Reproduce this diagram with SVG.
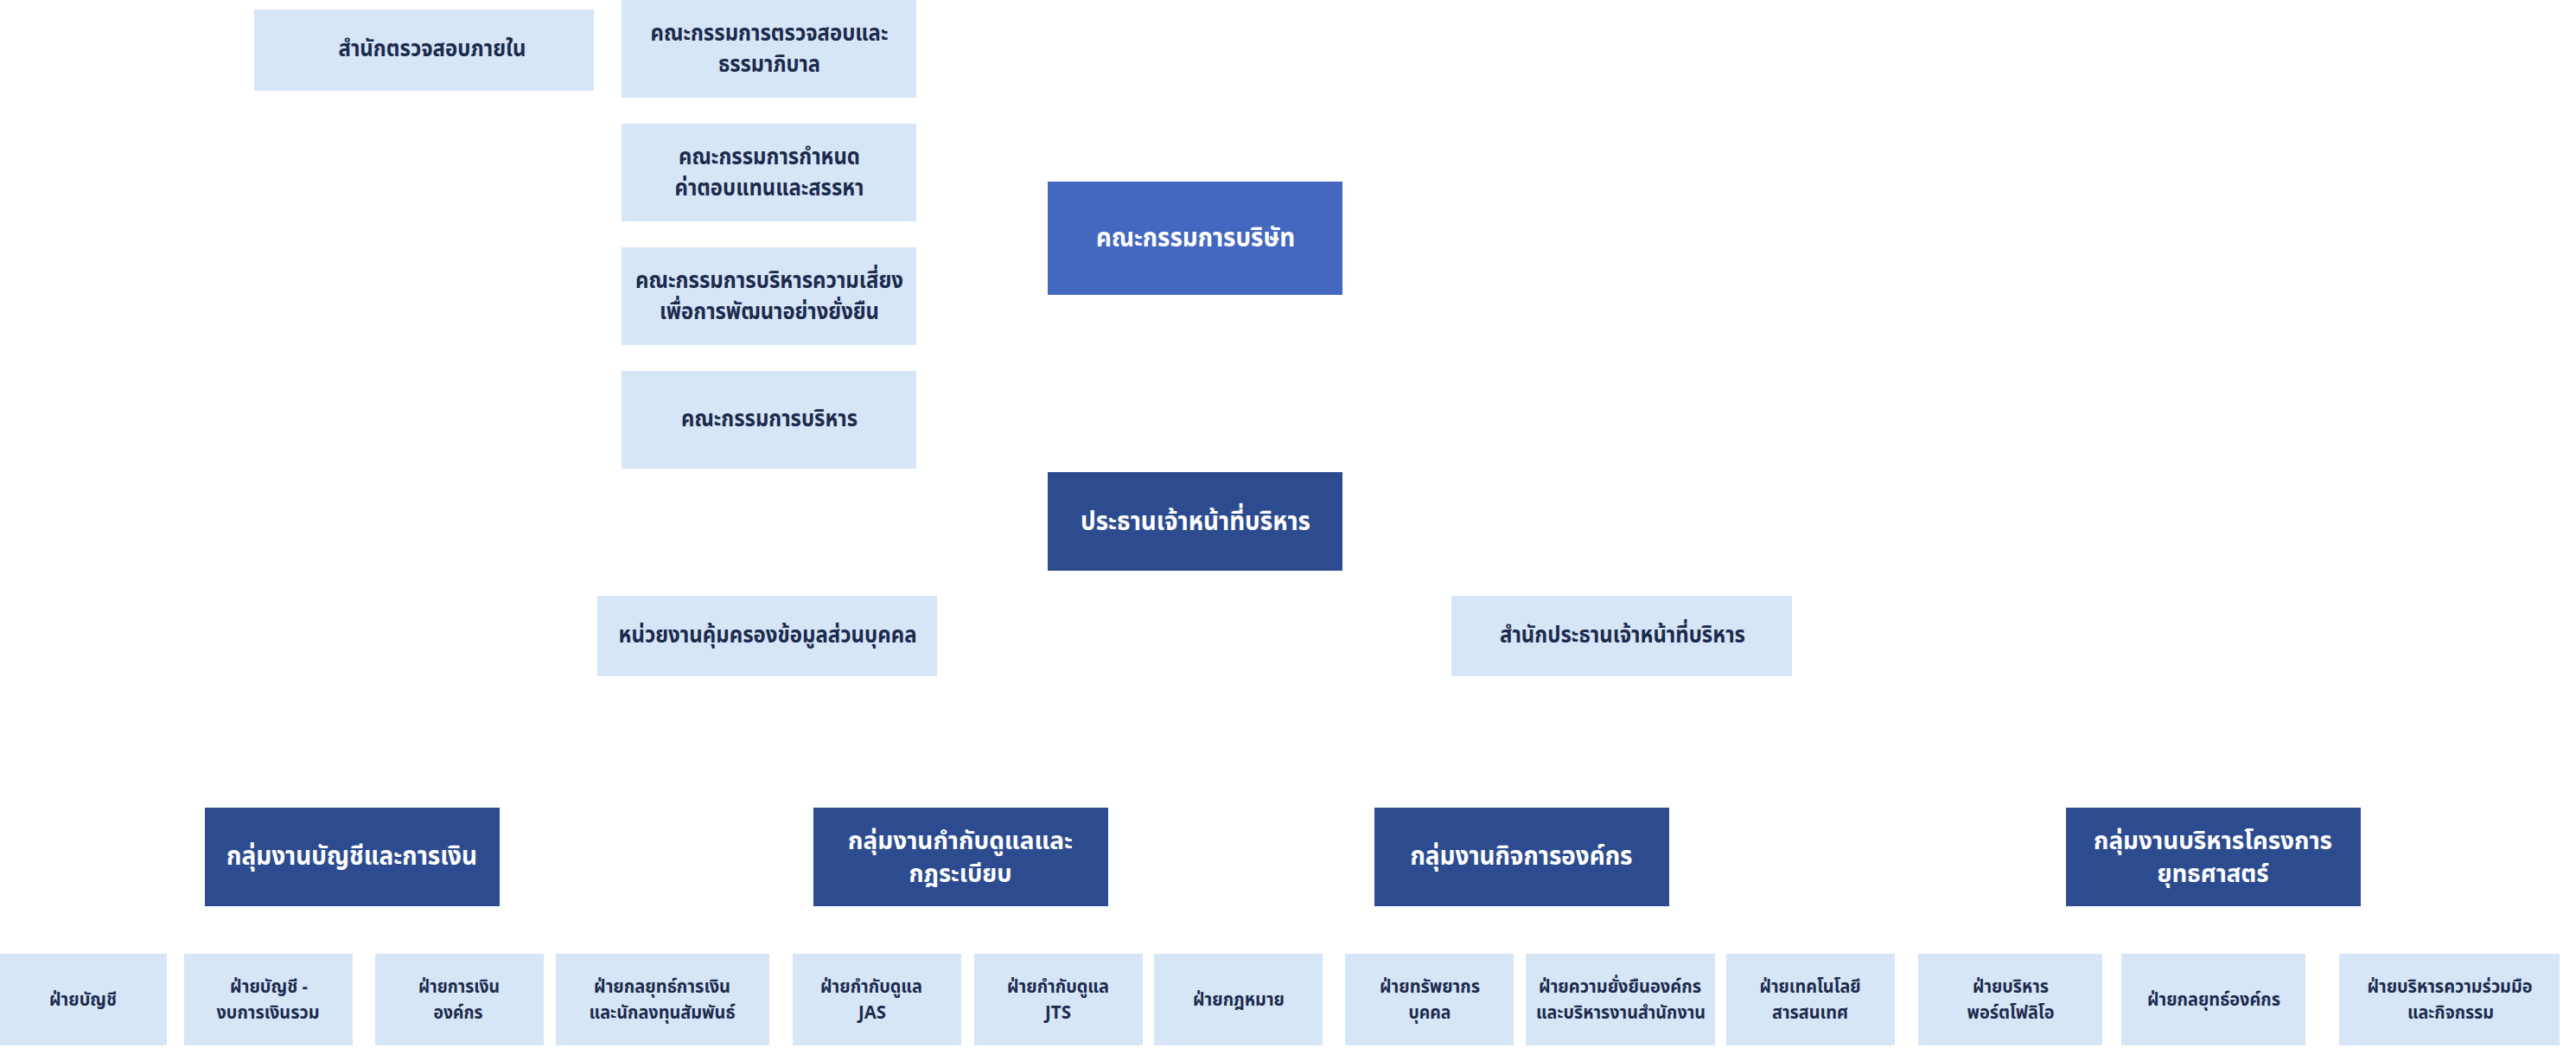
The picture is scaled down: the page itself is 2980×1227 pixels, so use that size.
<svg xmlns="http://www.w3.org/2000/svg" width="2980" height="1227" viewBox="0 0 2980 1227">
<style>
.lt{fill:#D6E6F6}
.bd{fill:#4468BF}
.dk{fill:#2C4C8F}
text{font-family:"Noto Sans Thai","Noto Sans Thai UI","Noto Sans","Loma","Garuda",sans-serif;font-weight:700;text-anchor:middle}
.tl{fill:#1C2A4D;font-size:26px}
.ts{fill:#1C2A4D;font-size:21px}
.tw{fill:#FFFFFF;font-size:30px}
.tw2{fill:#FFFFFF;font-size:28px}
</style>
<rect width="2980" height="1227" fill="#FFFFFF"/>
<g id="connectors"></g>
<g id="n-audit-office"><rect class="lt" x="294" y="11" width="393" height="94"/><text class="tl" x="500" y="65" textLength="217" lengthAdjust="spacingAndGlyphs">สำนักตรวจสอบภายใน</text></g>
<g id="n-audit-committee"><rect class="lt" x="719" y="-2" width="341" height="115"/><text class="tl" x="890" y="47" textLength="275" lengthAdjust="spacingAndGlyphs">คณะกรรมการตรวจสอบและ</text><text class="tl" x="890" y="83" textLength="118" lengthAdjust="spacingAndGlyphs">ธรรมาภิบาล</text></g>
<g id="n-nomination"><rect class="lt" x="719" y="143" width="341" height="113"/><text class="tl" x="890" y="190" textLength="210" lengthAdjust="spacingAndGlyphs">คณะกรรมการกำหนด</text><text class="tl" x="890" y="226" textLength="219" lengthAdjust="spacingAndGlyphs">ค่าตอบแทนและสรรหา</text></g>
<g id="n-risk"><rect class="lt" x="719" y="286" width="341" height="113"/><text class="tl" x="890" y="333" textLength="310" lengthAdjust="spacingAndGlyphs">คณะกรรมการบริหารความเสี่ยง</text><text class="tl" x="890" y="369" textLength="254" lengthAdjust="spacingAndGlyphs">เพื่อการพัฒนาอย่างยั่งยืน</text></g>
<g id="n-exec-committee"><rect class="lt" x="719" y="429" width="341" height="113"/><text class="tl" x="890" y="493" textLength="204" lengthAdjust="spacingAndGlyphs">คณะกรรมการบริหาร</text></g>
<g id="n-board"><rect class="bd" x="1212" y="210" width="341" height="131"/><text class="tw" x="1383" y="285" textLength="230" lengthAdjust="spacingAndGlyphs">คณะกรรมการบริษัท</text></g>
<g id="n-ceo"><rect class="dk" x="1212" y="546" width="341" height="114"/><text class="tw" x="1383" y="613" textLength="266" lengthAdjust="spacingAndGlyphs">ประธานเจ้าหน้าที่บริหาร</text></g>
<g id="n-pdpa"><rect class="lt" x="691" y="689" width="393" height="93"/><text class="tl" x="888" y="743" textLength="345" lengthAdjust="spacingAndGlyphs">หน่วยงานคุ้มครองข้อมูลส่วนบุคคล</text></g>
<g id="n-ceo-office"><rect class="lt" x="1679" y="689" width="394" height="93"/><text class="tl" x="1877" y="743" textLength="284" lengthAdjust="spacingAndGlyphs">สำนักประธานเจ้าหน้าที่บริหาร</text></g>
<g id="n-g1"><rect class="dk" x="237" y="934" width="341" height="114"/><text class="tw" x="407" y="1000" textLength="290" lengthAdjust="spacingAndGlyphs">กลุ่มงานบัญชีและการเงิน</text></g>
<g id="n-g2"><rect class="dk" x="941" y="934" width="341" height="114"/><text class="tw2" x="1111" y="982" textLength="260" lengthAdjust="spacingAndGlyphs">กลุ่มงานกำกับดูแลและ</text><text class="tw2" x="1111" y="1020" textLength="119" lengthAdjust="spacingAndGlyphs">กฎระเบียบ</text></g>
<g id="n-g3"><rect class="dk" x="1590" y="934" width="341" height="114"/><text class="tw" x="1760" y="1000" textLength="257" lengthAdjust="spacingAndGlyphs">กลุ่มงานกิจการองค์กร</text></g>
<g id="n-g4"><rect class="dk" x="2390" y="934" width="341" height="114"/><text class="tw2" x="2560" y="982" textLength="276" lengthAdjust="spacingAndGlyphs">กลุ่มงานบริหารโครงการ</text><text class="tw2" x="2560" y="1020" textLength="129" lengthAdjust="spacingAndGlyphs">ยุทธศาสตร์</text></g>
<g id="n-d1"><rect class="lt" x="0" y="1103" width="193" height="106"/><text class="ts" x="96" y="1163" textLength="78" lengthAdjust="spacingAndGlyphs">ฝ่ายบัญชี</text></g>
<g id="n-d2"><rect class="lt" x="213" y="1103" width="195" height="106"/><text class="ts" x="311" y="1148" textLength="90" lengthAdjust="spacingAndGlyphs">ฝ่ายบัญชี -</text><text class="ts" x="310" y="1178" textLength="119" lengthAdjust="spacingAndGlyphs">งบการเงินรวม</text></g>
<g id="n-d3"><rect class="lt" x="434" y="1103" width="195" height="106"/><text class="ts" x="531" y="1148" textLength="94" lengthAdjust="spacingAndGlyphs">ฝ่ายการเงิน</text><text class="ts" x="530" y="1178" textLength="57" lengthAdjust="spacingAndGlyphs">องค์กร</text></g>
<g id="n-d4"><rect class="lt" x="643" y="1103" width="247" height="106"/><text class="ts" x="766" y="1148" textLength="158" lengthAdjust="spacingAndGlyphs">ฝ่ายกลยุทธ์การเงิน</text><text class="ts" x="766" y="1178" textLength="169" lengthAdjust="spacingAndGlyphs">และนักลงทุนสัมพันธ์</text></g>
<g id="n-d5"><rect class="lt" x="917" y="1103" width="195" height="106"/><text class="ts" x="1008" y="1148" textLength="118" lengthAdjust="spacingAndGlyphs">ฝ่ายกำกับดูแล</text><text class="ts" x="1009" y="1178" textLength="32" lengthAdjust="spacingAndGlyphs">JAS</text></g>
<g id="n-d6"><rect class="lt" x="1127" y="1103" width="195" height="106"/><text class="ts" x="1224" y="1148" textLength="118" lengthAdjust="spacingAndGlyphs">ฝ่ายกำกับดูแล</text><text class="ts" x="1224" y="1178" textLength="30" lengthAdjust="spacingAndGlyphs">JTS</text></g>
<g id="n-d7"><rect class="lt" x="1335" y="1103" width="195" height="106"/><text class="ts" x="1433" y="1163" textLength="106" lengthAdjust="spacingAndGlyphs">ฝ่ายกฎหมาย</text></g>
<g id="n-d8"><rect class="lt" x="1556" y="1103" width="195" height="106"/><text class="ts" x="1654" y="1148" textLength="116" lengthAdjust="spacingAndGlyphs">ฝ่ายทรัพยากร</text><text class="ts" x="1654" y="1178" textLength="49" lengthAdjust="spacingAndGlyphs">บุคคล</text></g>
<g id="n-d9"><rect class="lt" x="1765" y="1103" width="219" height="106"/><text class="ts" x="1874" y="1148" textLength="188" lengthAdjust="spacingAndGlyphs">ฝ่ายความยั่งยืนองค์กร</text><text class="ts" x="1875" y="1178" textLength="196" lengthAdjust="spacingAndGlyphs">และบริหารงานสำนักงาน</text></g>
<g id="n-d10"><rect class="lt" x="1997" y="1103" width="195" height="106"/><text class="ts" x="2094" y="1148" textLength="117" lengthAdjust="spacingAndGlyphs">ฝ่ายเทคโนโลยี</text><text class="ts" x="2094" y="1178" textLength="88" lengthAdjust="spacingAndGlyphs">สารสนเทศ</text></g>
<g id="n-d11"><rect class="lt" x="2219" y="1103" width="213" height="106"/><text class="ts" x="2326" y="1148" textLength="88" lengthAdjust="spacingAndGlyphs">ฝ่ายบริหาร</text><text class="ts" x="2326" y="1178" textLength="101" lengthAdjust="spacingAndGlyphs">พอร์ตโฟลิโอ</text></g>
<g id="n-d12"><rect class="lt" x="2454" y="1103" width="213" height="106"/><text class="ts" x="2561" y="1163" textLength="154" lengthAdjust="spacingAndGlyphs">ฝ่ายกลยุทธ์องค์กร</text></g>
<g id="n-d13"><rect class="lt" x="2706" y="1103" width="255" height="106"/><text class="ts" x="2834" y="1148" textLength="191" lengthAdjust="spacingAndGlyphs">ฝ่ายบริหารความร่วมมือ</text><text class="ts" x="2835" y="1178" textLength="100" lengthAdjust="spacingAndGlyphs">และกิจกรรม</text></g>
</svg>
